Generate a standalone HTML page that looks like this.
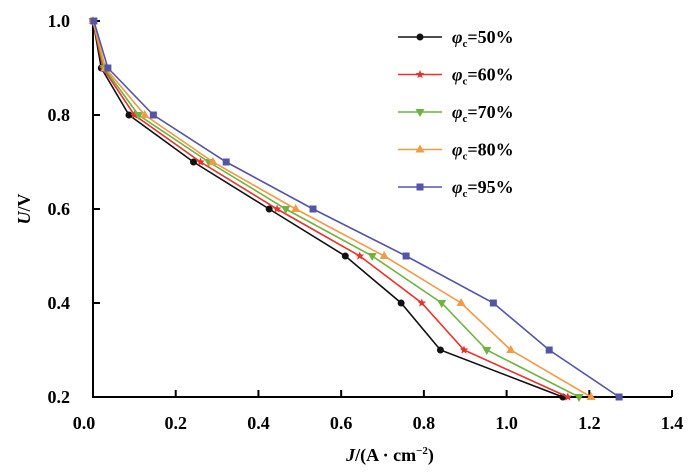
<!DOCTYPE html>
<html><head><meta charset="utf-8"><style>
body{margin:0;background:#fff}
svg{font-family:"Liberation Serif",serif;font-weight:bold}
</style></head><body>
<svg width="700" height="470" viewBox="0 0 700 470">
<g id="axes"></g><g id="series"></g><g id="legend"></g>
</svg>
<script>
const xTicks=[0,0.2,0.4,0.6,0.8,1.0,1.2,1.4];
const yTicks=[0.2,0.4,0.6,0.8,1.0];
const voltages=[1.0,0.9,0.8,0.7,0.6,0.5,0.4,0.3,0.2];
const names=["50%","60%","70%","80%","95%"];
const colors=["#111111","#e8322c","#6db33f","#f39a45","#5555a8"];
const markers=["circle","star","tridown","triup","square"];
const j50=[0.0,0.02,0.087,0.243,0.426,0.61,0.745,0.84,1.136];
const j60=[0.0,0.024,0.1,0.26,0.445,0.645,0.795,0.897,1.148];
const j70=[0.0,0.027,0.11,0.28,0.466,0.675,0.843,0.952,1.175];
const j80=[0.0,0.03,0.125,0.29,0.49,0.704,0.89,1.01,1.204];
const j95=[0.002,0.036,0.146,0.322,0.532,0.757,0.968,1.103,1.272];
const series=[j50,j60,j70,j80,j95];
const NS="http://www.w3.org/2000/svg";
const X0=93,XS=413.6,Y0=21,YS=470;
const xs=v=>X0+v*XS, ys=v=>Y0+(1-v)*YS;
function mk(t,a,p){const e=document.createElementNS(NS,t);for(const k in a)e.setAttribute(k,a[k]);p.appendChild(e);return e;}
const ax=document.getElementById('axes');
let l=mk('line',{x1:X0,y1:ys(0.2),x2:xs(1.4),y2:ys(0.2),stroke:'#000','stroke-width':2},ax);


l=mk('line',{x1:X0,y1:ys(0.2)+1,x2:X0,y2:ys(1.0)-1,stroke:'#000','stroke-width':2},ax);


xTicks.forEach(t=>{
 mk('line',{x1:xs(t),y1:ys(0.2),x2:xs(t),y2:ys(0.2)-7,stroke:'#000','stroke-width':2},ax);
 const tx=mk('text',{x:xs(t)-(t===0?9:0),y:429,'text-anchor':'middle','font-size':18},ax);
 tx.textContent=t.toFixed(1);
 
 
});
yTicks.forEach(t=>{
 mk('line',{x1:X0,y1:ys(t),x2:X0+7,y2:ys(t),stroke:'#000','stroke-width':2},ax);
 const tx=mk('text',{x:70,y:ys(t)+6,'text-anchor':'end','font-size':18},ax);
 tx.textContent=t.toFixed(1);
 
 
});
let xt=mk('text',{x:390,y:461,'text-anchor':'middle','font-size':18},ax);
xt.innerHTML='<tspan font-style="italic">J</tspan>/(A · cm<tspan font-size="11" dy="-7">−2</tspan><tspan dy="7">)</tspan>';


let yt=mk('text',{x:0,y:0,'text-anchor':'middle','font-size':18,transform:'translate(30,209) rotate(-90)'},ax);
yt.innerHTML='<tspan font-style="italic">U</tspan>/V';


function marker(type,x,y,c,p){
 let e;
 if(type==='circle')e=mk('circle',{cx:x,cy:y,r:3.5,fill:c},p);
 else if(type==='square')e=mk('rect',{x:x-3.5,y:y-3.5,width:7,height:7,fill:c},p);
 else if(type==='triup')e=mk('polygon',{points:`${x},${y-5} ${x-4.5},${y+3} ${x+4.5},${y+3}`,fill:c},p);
 else if(type==='tridown')e=mk('polygon',{points:`${x},${y+5} ${x-4.5},${y-3} ${x+4.5},${y-3}`,fill:c},p);
 else{let pts=[];for(let i=0;i<10;i++){const r=i%2?2:4.5,a=-Math.PI/2+i*Math.PI/5;pts.push((x+r*Math.cos(a)).toFixed(1)+','+(y+r*Math.sin(a)).toFixed(1));}e=mk('polygon',{points:pts.join(' '),fill:c},p);}
 return e;
}
const sg=document.getElementById('series');
series.forEach((s,i)=>{
 const g=mk('g',{},sg);
 
 
 const pl=mk('polyline',{points:s.map((v,k)=>xs(v)+','+ys(voltages[k])).join(' '),fill:'none',stroke:colors[i],'stroke-width':1.6},g);
 
 
 s.forEach((v,k)=>{
  const m=marker(markers[i],xs(v),ys(voltages[k]),colors[i],g);
  
  
 });
});
const lg=document.getElementById('legend');
names.forEach((n,i)=>{
 const y=37+i*37.5;
 const g=mk('g',{},lg);
 
 
 mk('line',{x1:398,y1:y,x2:442,y2:y,stroke:colors[i],'stroke-width':1.6},g);
 marker(markers[i],420,y,colors[i],g);
 const t=mk('text',{x:452,y:y+6,'font-size':18},g);
 t.innerHTML='<tspan font-style="italic">φ</tspan><tspan font-size="11" dy="4">c</tspan><tspan dy="-4">='+n+'</tspan>';
});
</script>
</body></html>
